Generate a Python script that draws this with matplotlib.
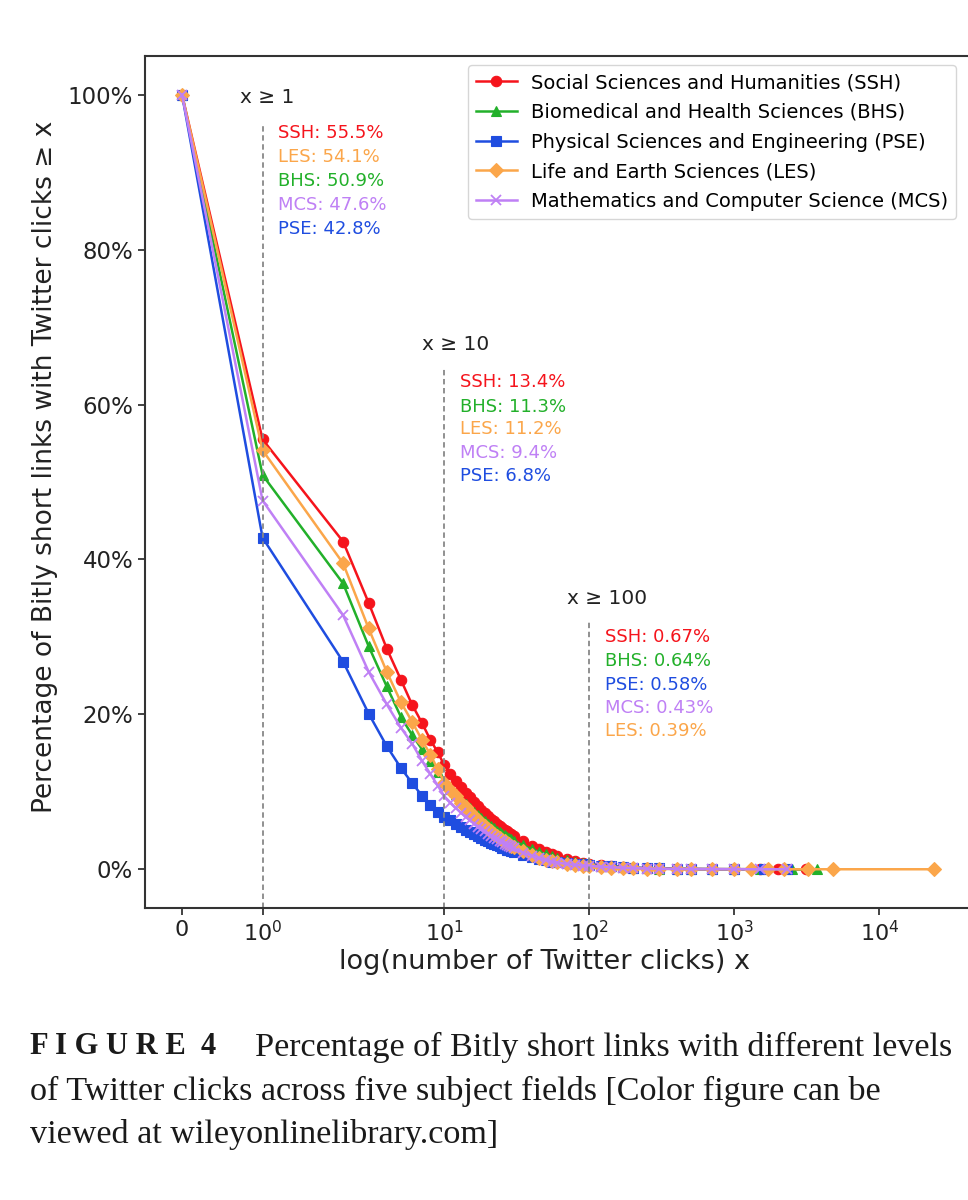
import matplotlib
matplotlib.use("Agg")
import matplotlib.pyplot as plt
from matplotlib.ticker import FixedLocator, NullLocator, FuncFormatter

# ---------------- data ----------------
labels = ["Social Sciences and Humanities (SSH)",
          "Biomedical and Health Sciences (BHS)",
          "Physical Sciences and Engineering (PSE)",
          "Life and Earth Sciences (LES)",
          "Mathematics and Computer Science (MCS)"]

x_head = [0, 1, 2, 3, 4, 5, 6, 7, 8, 9, 10, 11, 12, 13, 14, 15, 16, 17, 18, 19, 20,
          21, 22, 23, 24, 25, 26, 27, 28, 29, 30, 35, 40, 45, 50, 55, 60, 70, 80, 90,
          100, 120, 140, 170, 200, 250, 300, 400, 500, 700, 1000]

ssh_head = [100, 55.5, 42.3, 34.4, 28.5, 24.5, 21.2, 18.9, 16.7, 15.1, 13.4, 12.3, 11.4,
            10.6, 9.9, 9.3, 8.7, 8.2, 7.7, 7.3, 6.9, 6.5, 6.2, 5.9, 5.6, 5.3, 5.1, 4.9,
            4.7, 4.5, 4.3, 3.6, 3.0, 2.6, 2.2, 1.95, 1.7, 1.3, 1.05, 0.85, 0.67, 0.5,
            0.38, 0.27, 0.2, 0.13, 0.09, 0.05, 0.03, 0.015, 0.008]
bhs_head = [100, 50.9, 36.9, 28.8, 23.6, 19.7, 17.3, 15.5, 14.0, 12.6, 11.3, 10.4, 9.7,
            9.0, 8.4, 7.9, 7.4, 7.0, 6.6, 6.2, 5.9, 5.6, 5.3, 5.0, 4.8, 4.6, 4.4, 4.2,
            4.0, 3.85, 3.7, 3.1, 2.6, 2.25, 1.95, 1.7, 1.5, 1.2, 0.95, 0.78, 0.64, 0.47,
            0.36, 0.26, 0.19, 0.12, 0.085, 0.05, 0.03, 0.015, 0.008]
pse_head = [100, 42.8, 26.8, 20.1, 15.9, 13.1, 11.1, 9.5, 8.3, 7.4, 6.8, 6.3, 5.85,
            5.45, 5.1, 4.8, 4.5, 4.25, 4.0, 3.8, 3.6, 3.4, 3.25, 3.1, 2.95, 2.8, 2.7,
            2.55, 2.45, 2.35, 2.25, 1.85, 1.55, 1.3, 1.15, 1.0, 0.9, 0.78, 0.69, 0.63,
            0.58, 0.46, 0.37, 0.28, 0.21, 0.14, 0.1, 0.06, 0.04, 0.02, 0.01]
les_head = [100, 54.1, 39.5, 31.1, 25.5, 21.6, 19.0, 16.7, 14.8, 12.9, 11.2, 10.2, 9.4,
            8.6, 8.0, 7.4, 6.9, 6.4, 6.0, 5.6, 5.2, 4.9, 4.6, 4.3, 4.05, 3.8, 3.6, 3.4,
            3.2, 3.05, 2.9, 2.3, 1.85, 1.5, 1.25, 1.05, 0.9, 0.7, 0.56, 0.46, 0.39, 0.29,
            0.22, 0.16, 0.12, 0.08, 0.06, 0.035, 0.025, 0.015, 0.01]
mcs_head = [100, 47.6, 32.8, 25.5, 21.3, 18.3, 16.2, 14.0, 12.3, 10.8, 9.4, 8.6, 7.9,
            7.3, 6.8, 6.3, 5.9, 5.5, 5.2, 4.9, 4.6, 4.3, 4.1, 3.9, 3.7, 3.5, 3.3, 3.15,
            3.0, 2.85, 2.7, 2.15, 1.75, 1.45, 1.2, 1.0, 0.87, 0.68, 0.56, 0.48, 0.43,
            0.33, 0.26, 0.19, 0.14, 0.09, 0.065, 0.04, 0.025, 0.014, 0.007]

ssh_tail_x = [1500, 2000, 3100]
ssh_tail_y = [0.004, 0.002, 0.001]
bhs_tail_x = [1500, 2500, 3700]
bhs_tail_y = [0.004, 0.002, 0.001]
pse_tail_x = [1600, 2300]
pse_tail_y = [0.005, 0.002]
les_tail_x = [1300, 1700, 2200, 3200, 4800, 24000]
les_tail_y = [0.008, 0.006, 0.004, 0.003, 0.002, 0.001]
mcs_tail_x = [1500, 2300]
mcs_tail_y = [0.004, 0.002]

thresholds = [1, 10, 100]
thr_titles = ["x \u2265 1", "x \u2265 10", "x \u2265 100"]
ann_1 = [("SSH: 55.5%", "ssh"), ("LES: 54.1%", "les"), ("BHS: 50.9%", "bhs"),
         ("MCS: 47.6%", "mcs"), ("PSE: 42.8%", "pse")]
ann_10 = [("SSH: 13.4%", "ssh"), ("BHS: 11.3%", "bhs"), ("LES: 11.2%", "les"),
          ("MCS: 9.4%", "mcs"), ("PSE: 6.8%", "pse")]
ann_100 = [("SSH: 0.67%", "ssh"), ("BHS: 0.64%", "bhs"), ("PSE: 0.58%", "pse"),
           ("MCS: 0.43%", "mcs"), ("LES: 0.39%", "les")]

colors = {"ssh": "#f5141c", "bhs": "#22b02a", "pse": "#1f4de0",
          "les": "#fba64a", "mcs": "#bf80f5"}
markers = {"ssh": "o", "bhs": "^", "pse": "s", "les": "D", "mcs": "x"}

series = [("ssh", x_head + ssh_tail_x, ssh_head + ssh_tail_y),
          ("bhs", x_head + bhs_tail_x, bhs_head + bhs_tail_y),
          ("pse", x_head + pse_tail_x, pse_head + pse_tail_y),
          ("les", x_head + les_tail_x, les_head + les_tail_y),
          ("mcs", x_head + mcs_tail_x, mcs_head + mcs_tail_y)]

# ---------------- figure ----------------
W, H = 968, 1200
fig = plt.figure(figsize=(W / 100, H / 100), dpi=100)
ax = fig.add_axes([145 / W, 1 - 908 / H, (972 - 145) / W, (908 - 56) / H])

for (key, xs, ys), lab in zip(series, labels):
    ax.plot(xs, ys, color=colors[key], marker=markers[key], markersize=7.5,
            linewidth=1.8, markeredgewidth=1.3 if key == "mcs" else 0.8,
            label=lab)

ax.set_xscale("symlog", linthresh=2, linscale=1)
ax.set_xlim(-0.46, 43600)
ax.set_ylim(-5, 105)

ax.xaxis.set_major_locator(FixedLocator([0, 1, 10, 100, 1000, 10000]))
ax.xaxis.set_minor_locator(NullLocator())
ax.set_xticklabels(["0", "$10^0$", "$10^1$", "$10^2$", "$10^3$", "$10^4$"])
ax.yaxis.set_major_locator(FixedLocator([0, 20, 40, 60, 80, 100]))
ax.yaxis.set_major_formatter(FuncFormatter(lambda v, p: f"{v:.0f}%"))
ax.tick_params(axis="y", labelsize=16.5, length=5, width=1.2, colors="#222222")
ax.tick_params(axis="x", labelsize=16, length=5, width=1.2, colors="#222222")

for sp in ax.spines.values():
    sp.set_linewidth(1.5)
    sp.set_color("#333333")

ax.set_xlabel("log(number of Twitter clicks) x", fontsize=19.5, color="#222222",
              ha="center", va="center")
ax.xaxis.set_label_coords(0.483, -0.0634)
ax.set_ylabel("Percentage of Bitly short links with Twitter clicks \u2265 x",
              fontsize=19, color="#222222", ha="center", va="center")
ax.yaxis.set_label_coords(-0.121, 0.5176)

# dashed threshold lines
line_tops = [96.1, 64.9, 32.2]
for t, top in zip(thresholds, line_tops):
    ax.vlines(t, -5, top, colors="#888888", linestyles=(0, (3, 2)), linewidth=1.3)

title_y = [99.7, 67.8, 34.9]
for t, tt, ty in zip(thresholds, thr_titles, title_y):
    ax.annotate(tt, xy=(t, ty), xytext=(-16, 0), textcoords="offset points",
                ha="left", va="center", fontsize=14.5, color="#222222")

ann_sets = [ann_1, ann_10, ann_100]
ann_y = [[95.1, 91.9, 88.8, 85.7, 82.7],
         [62.9, 59.7, 56.8, 53.7, 50.8],
         [30.0, 26.9, 23.8, 20.8, 17.8]]
for t, anns, ys in zip(thresholds, ann_sets, ann_y):
    for (txt, key), yy in zip(anns, ys):
        ax.annotate(txt, xy=(t, yy), xytext=(11, 0), textcoords="offset points",
                    ha="left", va="center", fontsize=13, color=colors[key])

leg = ax.legend(loc="upper left", bbox_to_anchor=(0.3905, 0.989), fontsize=14.0,
                frameon=True, fancybox=True, borderpad=0.4, labelspacing=0.55,
                handlelength=2.1, handletextpad=0.75, borderaxespad=0)
leg.get_frame().set_edgecolor("#cccccc")
leg.get_frame().set_linewidth(1.0)

# caption
fig.text(30 / W, 1 - 1047 / H, "F I G U R E  4", fontsize=22, fontweight="bold",
         family="Liberation Serif", va="center", ha="left", color="#1a1a1a")
fig.text(255 / W, 1 - 1047 / H, "Percentage of Bitly short links with different levels",
         fontsize=24.6, family="Liberation Serif", va="center", ha="left", color="#1a1a1a")
fig.text(30 / W, 1 - 1091 / H,
         "of Twitter clicks across five subject fields [Color figure can be",
         fontsize=24.6, family="Liberation Serif", va="center", ha="left", color="#1a1a1a")
fig.text(30 / W, 1 - 1135 / H, "viewed at wileyonlinelibrary.com]",
         fontsize=24.6, family="Liberation Serif", va="center", ha="left", color="#1a1a1a")

fig.savefig("out.png", dpi=100)
